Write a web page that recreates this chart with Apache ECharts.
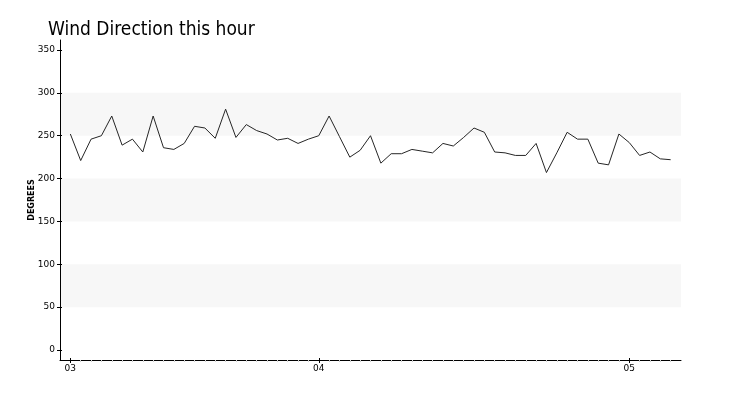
<!DOCTYPE html>
<html>
<head>
<meta charset="utf-8">
<script src="https://cdn.jsdelivr.net/npm/echarts@6/dist/echarts.min.js"></script>
<style>
html,body{margin:0;padding:0;background:#fff;}
#chart{width:732px;height:400px;}
</style>
</head>
<body>
<div id="chart"></div>
<script>
// Wind direction readings (degrees), one per sample
var windDirection = [252, 221, 246, 250, 273, 239, 246, 231, 273, 236,
  234, 241, 261, 259, 247, 281, 248, 263, 256, 252,
  245, 247, 241, 246, 250, 273, 249, 225, 233, 250,
  218, 229, 229, 234, 232, 230, 241, 238, 248, 259,
  254, 231, 230, 227, 227, 241, 207, 230, 254, 246,
  246, 218, 216, 252, 242, 227, 231, 223, 222];
// Hour tick labels and the sample index at which they sit
var hourLabels = ['03', '04', '05'];
var hourIndex = [0, 24, 54];
var yTicks = [0, 50, 100, 150, 200, 250, 300, 350];

// Build category list (with an empty slot at each end for padding)
var categories = [''];
var seriesData = [null];
for (var i = 0; i < windDirection.length; i++) {
  var k = hourIndex.indexOf(i);
  categories.push(k >= 0 ? hourLabels[k] : '');
  seriesData.push(windDirection[i]);
}
categories.push('');
seriesData.push(null);

var FONT = 'DejaVu Sans';
var isMajor = function (idx, val) { return val !== ''; };
var isMinor = function (idx, val) { return idx > 0 && idx < categories.length - 1 && val === ''; };

var chart = echarts.init(document.getElementById('chart'), null, {renderer: 'canvas'});
chart.setOption({
  animation: false,
  backgroundColor: '#fff',
  title: {
    text: 'Wind Direction this hour',
    left: 43, top: 16,
    textStyle: {fontFamily: "'DejaVu Sans Condensed', 'Liberation Sans', sans-serif", fontSize: 19, fontWeight: 'normal', color: '#000'}
  },
  grid: [
    {left: 60, right: 51, top: 50, bottom: 50},
    {left: 60, right: 51, top: 40, bottom: 40}
  ],
  xAxis: [
    {
      gridIndex: 0, type: 'category', position: 'bottom', data: categories, boundaryGap: false, offset: 10,
      axisLine: {show: false, onZero: false},
      axisTick: {show: true, interval: isMinor, length: 2, lineStyle: {color: '#cfcfcf', width: 1}},
      axisLabel: {show: false}, splitLine: {show: false}
    },
    {
      gridIndex: 0, type: 'category', position: 'bottom', data: categories, boundaryGap: false, offset: 10,
      axisLine: {show: true, onZero: false, lineStyle: {color: '#000', width: 1}},
      axisTick: {show: true, interval: isMajor, length: 3, lineStyle: {color: '#000'}},
      axisLabel: {show: true, interval: isMajor, margin: 4, fontFamily: FONT, fontSize: 9, color: '#000'},
      splitLine: {show: false}
    },
    {
      gridIndex: 0, type: 'category', position: 'bottom', data: categories, boundaryGap: false, offset: 10,
      axisLine: {show: false, onZero: false},
      axisTick: {show: true, inside: true, interval: isMajor, length: 2, lineStyle: {color: '#000'}},
      axisLabel: {show: false}, splitLine: {show: false}
    },
    {gridIndex: 1, type: 'value', show: false}
  ],
  yAxis: [
    {
      gridIndex: 0, type: 'value', position: 'left', min: yTicks[0], max: yTicks[yTicks.length - 1], interval: 50,
      name: 'DEGREES', nameLocation: 'middle', nameRotate: 90, nameGap: 24, nameMoveOverlap: false,
      nameTextStyle: {fontFamily: FONT, fontSize: 8, fontWeight: 'bold', color: '#000'},
      axisLine: {show: false, onZero: false},
      axisTick: {show: true, length: 3, lineStyle: {color: '#000'}},
      axisLabel: {margin: 5, fontFamily: FONT, fontSize: 9, color: '#000'},
      splitLine: {show: false},
      splitArea: {show: true, areaStyle: {color: ['rgba(255,255,255,0)', '#f7f7f7']}}
    },
    {
      gridIndex: 0, type: 'value', position: 'left', min: yTicks[0], max: yTicks[yTicks.length - 1], interval: 50,
      axisLine: {show: false, onZero: false},
      axisTick: {show: true, inside: true, length: 2, lineStyle: {color: '#000'}},
      axisLabel: {show: false}, splitLine: {show: false}
    },
    {
      gridIndex: 1, type: 'value', position: 'left', min: 0, max: 1,
      axisLine: {show: true, onZero: false, lineStyle: {color: '#000', width: 1}},
      axisTick: {show: false}, axisLabel: {show: false}, splitLine: {show: false}
    }
  ],
  series: [{
    type: 'line', xAxisIndex: 1, yAxisIndex: 0, data: seriesData,
    showSymbol: false, symbol: 'none',
    lineStyle: {color: '#262626', width: 1},
    connectNulls: false
  }]
});
</script>
</body>
</html>
